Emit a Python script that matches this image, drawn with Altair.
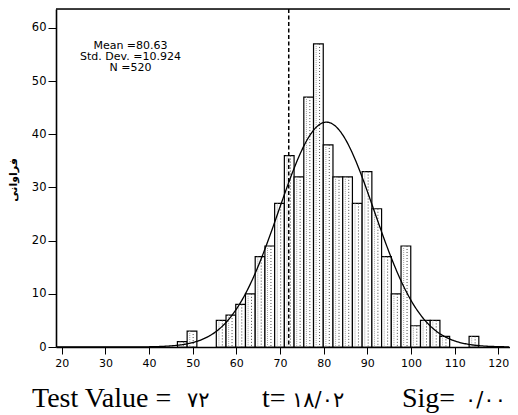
import altair as alt
import pandas as pd
import math

# ---- data ----
first_edge = 46.5
bin_width = 2.227
counts = [1, 3, 0, 0, 5, 6, 8, 10, 17, 19, 27, 36, 32, 47, 57, 38, 32, 32,
          27, 33, 26, 17, 10, 19, 4, 5, 5, 2, 0, 0, 2]
mean_val = 80.63
sd_val = 10.924
n_val = 520
test_value = 72
x_ticks = [20, 30, 40, 50, 60, 70, 80, 90, 100, 110, 120]
y_ticks = [0, 10, 20, 30, 40, 50, 60]
stats_lines = ["Mean =80.63", "Std. Dev. =10.924", "N =520"]
bottom_labels = ["Test Value =", "t=", "Sig="]
bottom_numbers = ["۷۲", "۱۸/۰۲", "۰/۰۰"]
y_title = "فراوانی"

W, H = 454, 338
x_dom = [18.69, 122.68]
y_dom = [0, 63.57]

starts = [first_edge + i * bin_width for i in range(len(counts))]
bins = pd.DataFrame({
    "start": starts,
    "end": [s + bin_width for s in starts],
    "count": counts,
})
bins["dotA"] = bins["start"] + 0.27 * bin_width
bins["dotB"] = bins["start"] + 0.62 * bin_width
bars_nz = bins[bins["count"] > 0]

xs = alt.Scale(domain=x_dom, nice=False, zero=False)
ys = alt.Scale(domain=y_dom, nice=False, zero=False)

xaxis = alt.Axis(values=x_ticks, grid=False, tickSize=7, tickColor="black",
                 domainColor="black", domainWidth=1.6, labelFont="DejaVu Sans",
                 labelFontSize=11, labelColor="black", labelPadding=3, title=None)
yaxis = alt.Axis(values=y_ticks, grid=False, tickSize=8, tickColor="black",
                 domainColor="black", domainWidth=1.6, labelFont="DejaVu Sans",
                 labelFontSize=11.5, labelColor="black", labelPadding=2, title=None)

bars = alt.Chart(bars_nz).mark_rect(fill="white", stroke="black", strokeWidth=1.2).encode(
    x=alt.X("start:Q", scale=xs, axis=xaxis),
    x2="end:Q",
    y=alt.Y("count:Q", scale=ys, axis=yaxis),
    y2=alt.datum(0),
)

dots_a = alt.Chart(bars_nz).mark_rule(color="#a0a0a0", strokeWidth=1, strokeDash=[1, 1]).encode(
    x=alt.X("dotA:Q", scale=xs), y=alt.Y("count:Q", scale=ys), y2=alt.datum(0)
)
dots_b = alt.Chart(bars_nz).mark_rule(color="#444444", strokeWidth=1, strokeDash=[1, 2]).encode(
    x=alt.X("dotB:Q", scale=xs), y=alt.Y("count:Q", scale=ys), y2=alt.datum(0)
)

scale_k = n_val * bin_width / (sd_val * math.sqrt(2 * math.pi))
curve = alt.Chart(alt.sequence(x_dom[0], x_dom[1], 0.25, as_="x")).transform_calculate(
    y=f"{scale_k} * exp(-0.5 * pow((datum.x - {mean_val}) / {sd_val}, 2))"
).mark_line(color="black", strokeWidth=1.3, clip=True).encode(
    x=alt.X("x:Q", scale=xs), y=alt.Y("y:Q", scale=ys)
)

tv = alt.Chart(pd.DataFrame({"tv": [test_value]})).mark_rule(
    color="black", strokeWidth=1.5, strokeDash=[4, 2.5]
).encode(x=alt.X("tv:Q", scale=xs), y=alt.value(0), y2=alt.value(H))

top_line = alt.Chart(pd.DataFrame({"a": [0]})).mark_rule(color="black", strokeWidth=1.6).encode(
    x=alt.value(0), x2=alt.value(W), y=alt.value(0)
)

one = pd.DataFrame({"a": [0]})
layers = [bars, dots_a, dots_b, curve, tv, top_line]

for txt, yy in zip(stats_lines, [39.5, 50.8, 62]):
    layers.append(alt.Chart(one).mark_text(text=txt, font="DejaVu Sans", fontSize=11,
                                           align="center", baseline="alphabetic",
                                           color="black").encode(
        x=alt.value(74.5), y=alt.value(yy)))

base_y = 398
for txt, xx in zip(bottom_labels, [-24, 206, 346]):
    layers.append(alt.Chart(one).mark_text(text=txt, font="Liberation Serif", fontSize=28,
                                           align="left", baseline="alphabetic",
                                           color="black").encode(
        x=alt.value(xx), y=alt.value(base_y)))
for txt, xx in zip(bottom_numbers, [131, 236, 409]):
    layers.append(alt.Chart(one).mark_text(text=txt,
                                           font="DejaVu Sans ExtraLight, DejaVu Sans",
                                           fontSize=21, align="left", baseline="alphabetic",
                                           color="black").encode(
        x=alt.value(xx), y=alt.value(base_y)))

layers.append(alt.Chart(one).mark_text(text=y_title, font="DejaVu Sans", fontSize=11,
                                       fontWeight="bold", angle=270, align="center",
                                       baseline="middle", color="black").encode(
    x=alt.value(-42), y=alt.value(171)))

chart = alt.layer(*layers).properties(
    width=W, height=H,
    padding={"left": 48, "top": 1, "right": 0, "bottom": 67},
    autosize="none",
).configure_view(stroke=None).configure(background="white")

chart.save("out.html", embed_options={"renderer": "svg", "actions": False})
